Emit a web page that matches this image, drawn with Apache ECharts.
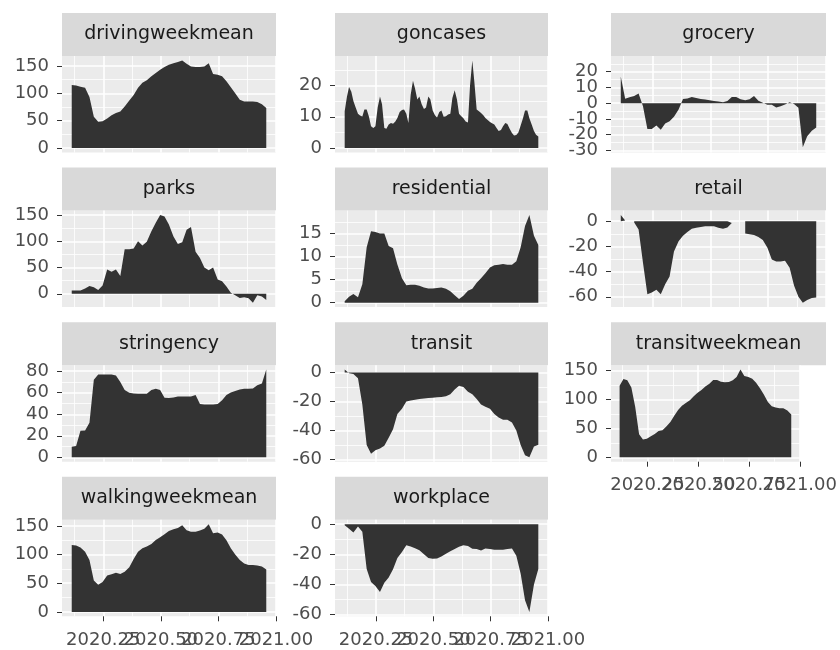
<!DOCTYPE html>
<html>
<head>
<meta charset="utf-8">
<script src="https://cdn.jsdelivr.net/npm/echarts@6/dist/echarts.min.js"></script>
<style>html,body{margin:0;background:#fff}#chart{width:840px;height:650px}</style>
</head>
<body>
<div id="chart"></div>
<script>
// decimal-year x positions (weekly, and half-weekly for goncases)
var weeks = [2020.113, 2020.132, 2020.151, 2020.171, 2020.190, 2020.209, 2020.228, 2020.247, 2020.267, 2020.286,
	2020.305, 2020.324, 2020.343, 2020.363, 2020.382, 2020.401, 2020.420, 2020.439, 2020.459, 2020.478,
	2020.497, 2020.516, 2020.535, 2020.555, 2020.574, 2020.593, 2020.612, 2020.631, 2020.651, 2020.670,
	2020.689, 2020.708, 2020.727, 2020.747, 2020.766, 2020.785, 2020.804, 2020.823, 2020.843, 2020.862,
	2020.881, 2020.900, 2020.919, 2020.939, 2020.958];
var halfWeeks = [2020.113, 2020.123, 2020.132, 2020.142, 2020.151, 2020.161, 2020.171, 2020.180, 2020.190, 2020.199,
	2020.209, 2020.219, 2020.228, 2020.238, 2020.247, 2020.257, 2020.267, 2020.276, 2020.286, 2020.295,
	2020.305, 2020.315, 2020.324, 2020.334, 2020.343, 2020.353, 2020.363, 2020.372, 2020.382, 2020.391,
	2020.401, 2020.411, 2020.420, 2020.430, 2020.439, 2020.449, 2020.459, 2020.468, 2020.478, 2020.487,
	2020.497, 2020.507, 2020.516, 2020.526, 2020.535, 2020.545, 2020.555, 2020.564, 2020.574, 2020.583,
	2020.593, 2020.603, 2020.612, 2020.622, 2020.631, 2020.641, 2020.651, 2020.660, 2020.670, 2020.679,
	2020.689, 2020.699, 2020.708, 2020.718, 2020.727, 2020.737, 2020.747, 2020.756, 2020.766, 2020.775,
	2020.785, 2020.795, 2020.804, 2020.814, 2020.823, 2020.833, 2020.843, 2020.852, 2020.862, 2020.871,
	2020.881, 2020.891, 2020.900, 2020.910, 2020.919, 2020.929, 2020.939, 2020.948, 2020.958];
var xBreaks = [2020.25, 2020.5, 2020.75, 2021.0];

var drivingWeekMean = [115, 114, 112, 110, 93, 57, 48, 49, 54, 60, 64, 67, 76, 87, 97, 110, 119, 124, 131, 137,
	143, 148, 152, 155, 157, 160, 154, 149, 148, 148, 149, 155, 135, 134, 131, 122, 111, 100, 88, 85,
	85, 85, 84, 80, 73];
var gonCases = [11.8, 16.5, 19.5, 18, 15, 13, 11, 10.4, 10.1, 12.3,
	12.3, 10, 7, 6.4, 7, 13, 16.5, 14, 6.4, 6.2,
	7.5, 8, 7.8, 8.5, 9.6, 11.5, 12.2, 12.3, 11, 8,
	17, 21.5, 19, 15.5, 16.5, 14, 12.5, 13, 16.5, 15.5,
	12, 10.5, 9.8, 11.5, 12, 10, 10.2, 10.7, 11, 16,
	18.5, 15.5, 11, 10.2, 9.5, 8.5, 8.2, 20, 28, 21,
	12.3, 11.8, 11.2, 10.5, 9.6, 9, 8.3, 7.9, 7.5, 6.5,
	5.5, 5.8, 7, 8, 7.7, 6.2, 4.8, 4, 4.2, 5,
	7.2, 9.5, 12, 12, 9.5, 7.5, 5.5, 4.3, 3.7];
var grocery = [17, 2.8, 3.8, 4.6, 6.2, -2, -16.5, -16.5, -14.3, -17, -13, -11.5, -8.7, -4, 2.6, 2.9, 3.9, 3.3, 2.7, 2.3,
	1.9, 1.4, 1.0, 0.6, 1.3, 3.9, 3.9, 2.5, 1.8, 2.5, 4.5, 1.6, 0.3, -1, -1, -2.8, -2, -0.8, 0.5, -0.5,
	-3, -28, -21, -17.5, -15.5];
var parks = [6.4, 6.4, 6.4, 10, 15, 12.5, 7, 16, 46, 42, 46, 34, 85, 85, 86, 100, 92, 99, 119, 135,
	150, 147, 132, 109, 95, 98, 122, 127, 80, 68, 50, 45, 50, 27, 24, 14, 2, -3, -8, -6.5,
	-8.5, -17, -3, -5, -12];
var residential = [0.3, 1.3, 1.9, 1.2, 4, 12, 15.5, 15.3, 15, 15, 12.3, 11.8, 8.3, 5.3, 3.8, 3.9, 3.9, 3.7, 3.3, 3.1,
	3.1, 3.2, 3.3, 3, 2.5, 1.6, 0.8, 1.5, 2.6, 3, 4.3, 5.3, 6.4, 7.6, 8.1, 8.2, 8.4, 8.2, 8.2, 9,
	12, 16.6, 19, 14.5, 12.5];
var retail = [4.9, 0.5, null, -1, -6.6, -33, -58, -56.6, -54.5, -58, -50, -44, -24, -16, -11.5, -8.5, -6, -5.2, -4.7, -4,
	-4, -4, -5.3, -6, -5, -1.5, null, null, -9.7, -10.4, -11, -12.5, -15, -21, -30.5, -32, -32, -31.5, -37, -51,
	-60, -64.7, -62.5, -61, -60.5];
var stringency = [9.8, 10.5, 24.6, 25, 32, 72, 77, 77, 77, 77, 76, 70, 62.5, 60, 59.3, 59, 59, 59, 62.5, 63.7,
	62.5, 55.4, 55, 55.5, 56.6, 56.6, 56.6, 56.6, 58, 49.5, 49, 49, 49, 49.5, 53, 58, 60.2, 61.5, 63, 63.7,
	63.7, 64, 67, 68.5, 81.5];
var transit = [2, -0.5, -1, -4, -22, -50, -56, -53.5, -52.3, -50.5, -45, -39, -28.5, -25, -20, -19.2, -18.7, -18.3, -17.9, -17.6,
	-17.4, -17.1, -16.8, -16.4, -15, -11.7, -9.1, -10, -13.3, -15, -18.3, -22, -23.6, -25, -28.5, -31, -32.5, -32.6, -34.5, -40,
	-50, -57, -58.4, -51, -49.8];
var transitWeekMean = [124, 135.7, 133.5, 121, 87, 40, 31, 32, 36.5, 40.5, 45.8, 47, 53.5, 61.2, 72, 82, 89.5, 94, 99, 106,
	112, 116.5, 122.5, 127.5, 134, 134, 131, 130, 130.5, 133.5, 139, 152, 141, 139, 136, 129, 119.5, 109, 96, 88.5,
	86.3, 85, 85, 81.3, 74];
var walkingWeekMean = [116.5, 116, 112.5, 105, 90.6, 55, 47.5, 52, 63.5, 65.8, 68.5, 66, 70, 78, 92.5, 105, 111, 114, 118.5, 125.5,
	130, 135.5, 141, 144.3, 146.3, 151, 142.5, 140, 139.6, 142, 145, 153, 137, 138.5, 135, 125, 111, 100, 90.5, 84.5,
	82, 82, 81, 79, 74];
var workplace = [-0.7, -3, -5.5, -1.5, -5, -29.7, -38.5, -41, -45, -39, -35.5, -30, -22.5, -18.5, -14, -14.8, -16, -17.4, -20, -22.5,
	-23, -22.8, -21.5, -19.6, -18, -16.5, -15, -14, -14.5, -16.3, -16.5, -17.5, -16.2, -16.5, -17, -17, -17, -16.5, -16.2, -21,
	-33, -50.5, -58.3, -40, -29.7];

// y tick labels per facet
var ticks100s = [0, 50, 100, 150];
var gonTicks = [0, 10, 20];
var groceryTicks = [-30, -20, -10, 0, 10, 20];
var residentialTicks = [0, 5, 10, 15];
var negTicks = [-60, -40, -20, 0];
var stringencyTicks = [0, 20, 40, 60, 80];
var groceryLimits = [-31.4, 30];

var facets = [
	{name: 'drivingweekmean', x: weeks, y: drivingWeekMean, ticks: ticks100s},
	{name: 'goncases', x: halfWeeks, y: gonCases, ticks: gonTicks},
	{name: 'grocery', x: weeks, y: grocery, ticks: groceryTicks, limits: groceryLimits},
	{name: 'parks', x: weeks, y: parks, ticks: ticks100s},
	{name: 'residential', x: weeks, y: residential, ticks: residentialTicks},
	{name: 'retail', x: weeks, y: retail, ticks: negTicks},
	{name: 'stringency', x: weeks, y: stringency, ticks: stringencyTicks},
	{name: 'transit', x: weeks, y: transit, ticks: negTicks},
	{name: 'transitweekmean', x: weeks, y: transitWeekMean, ticks: ticks100s, bottom: true},
	{name: 'walkingweekmean', x: weeks, y: walkingWeekMean, ticks: ticks100s, bottom: true},
	{name: 'workplace', x: weeks, y: workplace, ticks: negTicks, bottom: true}
];

var colLeft = [62, 335, 611], colWidth = [214, 213, 215];
var firstTop = 13, rowStep = 154.6, stripH = 43, panelH = 96.5;
var font = 'DejaVu Sans';
var tickStyle = {length: 5, lineStyle: {color: '#333333', width: 1}};
var labelStyle = {color: '#4D4D4D', fontFamily: font, fontSize: 18, showMinLabel: true, showMaxLabel: true};

// ggplot-style 5% expansion
var expand = function (lo, hi) {
	var r = hi - lo;
	return [lo - 0.05 * r, hi + 0.05 * r];
};
// minor breaks halfway between major ones
var minorOf = function (br, lim) {
	var step = br[1] - br[0], out = [];
	for (var v = br[0] - step / 2; v <= br[br.length - 1] + step; v += step) {
		if (v >= lim[0] && v <= lim[1]) out.push(+v.toFixed(6));
	}
	return out;
};
// every other break, so echarts does not drop overlapping labels
var alternate = function (br, odd) {
	return br.filter(function (v, k) { return k % 2 === odd; });
};

var xlim = expand(weeks[0], weeks[weeks.length - 1]);
var xMinor = minorOf(xBreaks, xlim);

var grids = [], xAxes = [], yAxes = [], series = [], graphics = [];
facets.forEach(function (f, i) {
	var c = i % 3, r = Math.floor(i / 3);
	var stripTop = firstTop + r * rowStep;
	var top = stripTop + stripH;
	var vals = f.y.filter(function (v) { return v !== null; });
	var ylim = f.limits || expand(Math.min(0, Math.min.apply(null, vals)), Math.max(0, Math.max.apply(null, vals)));
	var yMinor = minorOf(f.ticks, ylim);

	grids.push({left: colLeft[c], top: top, width: colWidth[c], height: panelH,
		show: true, backgroundColor: '#EBEBEB', borderWidth: 0, containLabel: false});

	// two major x axes (alternating breaks) + one for minor grid lines
	[0, 1].forEach(function (odd) {
		var br = alternate(xBreaks, odd);
		xAxes.push({
			gridIndex: i, type: 'value', min: xlim[0], max: xlim[1], position: 'bottom',
			axisLine: {show: false, onZero: false},
			axisTick: Object.assign({show: !!f.bottom, customValues: br}, tickStyle),
			axisLabel: Object.assign({show: !!f.bottom, customValues: br, margin: 15,
				formatter: function (v) { return v.toFixed(2); }}, labelStyle),
			splitLine: {show: true, lineStyle: {color: '#FFFFFF', width: 1.6}}
		});
	});
	xAxes.push({
		gridIndex: i, type: 'value', min: xlim[0], max: xlim[1], position: 'bottom',
		axisLine: {show: false, onZero: false},
		axisTick: {show: false, customValues: xMinor},
		axisLabel: {show: false},
		splitLine: {show: true, lineStyle: {color: '#FFFFFF', width: 0.8}}
	});

	[0, 1].forEach(function (odd) {
		var br = alternate(f.ticks, odd);
		yAxes.push({
			gridIndex: i, type: 'value', min: ylim[0], max: ylim[1], position: 'left',
			axisLine: {show: false, onZero: false},
			axisTick: Object.assign({show: true, customValues: br}, tickStyle),
			axisLabel: Object.assign({show: true, customValues: br, margin: 13}, labelStyle),
			splitLine: {show: true, lineStyle: {color: '#FFFFFF', width: 1.6}}
		});
	});
	yAxes.push({
		gridIndex: i, type: 'value', min: ylim[0], max: ylim[1], position: 'left',
		axisLine: {show: false, onZero: false},
		axisTick: {show: false, customValues: yMinor},
		axisLabel: {show: false},
		splitLine: {show: true, lineStyle: {color: '#FFFFFF', width: 0.8}}
	});

	series.push({
		type: 'line', name: f.name, xAxisIndex: 3 * i, yAxisIndex: 3 * i,
		data: f.x.map(function (d, k) { return [d, f.y[k] === null ? '-' : f.y[k]]; }),
		showSymbol: false, symbol: 'none', silent: true,
		lineStyle: {width: 0, color: '#333333'},
		areaStyle: {color: '#333333', opacity: 1}
	});

	// facet strip
	graphics.push({type: 'rect', left: colLeft[c], top: stripTop,
		shape: {width: colWidth[c], height: stripH}, style: {fill: '#D9D9D9'}, silent: true});
	graphics.push({type: 'text', x: colLeft[c] + colWidth[c] / 2, y: stripTop + stripH / 2,
		style: {text: f.name, fill: '#1A1A1A', font: '19px "DejaVu Sans"', align: 'center', verticalAlign: 'middle'}, silent: true});
});

var chart = echarts.init(document.getElementById('chart'));
chart.setOption({
	backgroundColor: '#FFFFFF',
	animation: false,
	grid: grids,
	xAxis: xAxes,
	yAxis: yAxes,
	series: series,
	graphic: graphics
});
</script>
</body>
</html>
